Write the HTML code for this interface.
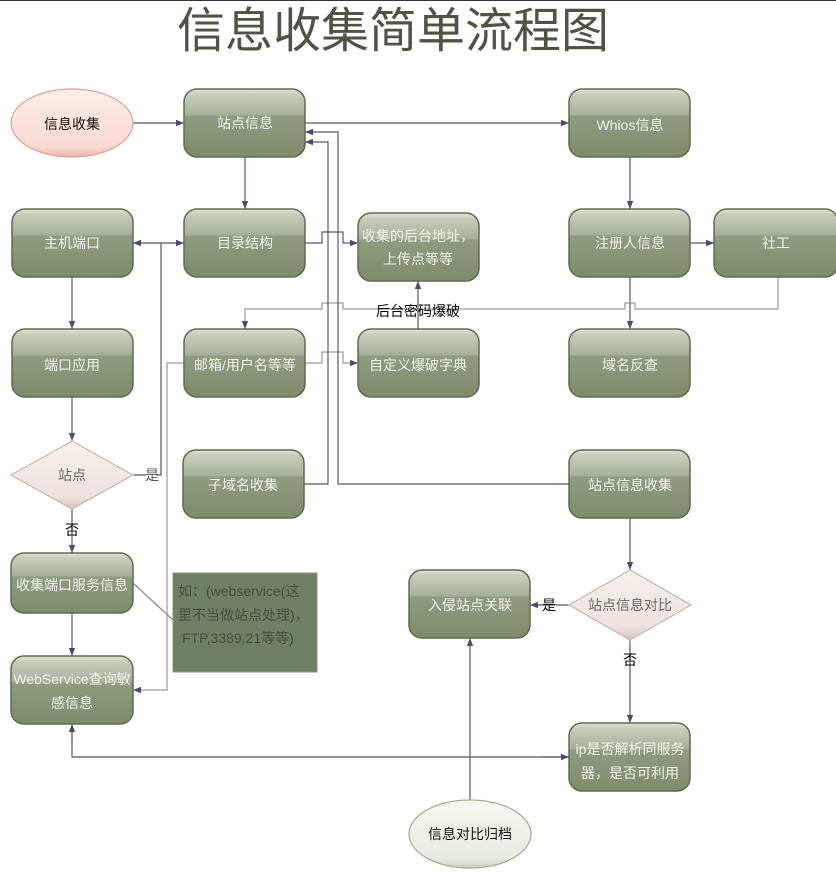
<!DOCTYPE html>
<html><head><meta charset="utf-8"><style>
html,body{margin:0;padding:0;background:#fff;}
svg{display:block;}
text{font-family:"Liberation Sans","Noto Sans CJK SC",sans-serif;}
</style></head><body>
<svg width="836" height="878" viewBox="0 0 836 878" xmlns="http://www.w3.org/2000/svg">
<defs>
<linearGradient id="g" x1="0" y1="0" x2="0" y2="1">
<stop offset="0" stop-color="#e0e5d9"/>
<stop offset="0.08" stop-color="#c6cdbb"/>
<stop offset="0.38" stop-color="#a6b098"/>
<stop offset="0.40" stop-color="#8e9b7e"/>
<stop offset="1" stop-color="#7e8c6b"/>
</linearGradient>
<linearGradient id="pk" x1="0" y1="0" x2="0" y2="1">
<stop offset="0" stop-color="#fdeeea"/>
<stop offset="0.85" stop-color="#f9d9d4"/>
<stop offset="1" stop-color="#eab4ab"/>
</linearGradient>
<linearGradient id="wh" x1="0" y1="0" x2="0" y2="1">
<stop offset="0" stop-color="#f6f7f2"/>
<stop offset="0.85" stop-color="#e9ece2"/>
<stop offset="1" stop-color="#c8cfbd"/>
</linearGradient>
<linearGradient id="dm" x1="0" y1="0" x2="0" y2="1">
<stop offset="0" stop-color="#f6f0ed"/>
<stop offset="0.8" stop-color="#ede3df"/>
<stop offset="1" stop-color="#d7c3bb"/>
</linearGradient>
<marker id="a" viewBox="0 0 10 10" refX="10" refY="5" markerWidth="8" markerHeight="8" orient="auto-start-reverse" markerUnits="userSpaceOnUse">
<path d="M0,1 L10,5 L0,9 z" fill="#4e4a6e"/>
</marker>
</defs>
<line x1="0" y1="0.5" x2="836" y2="0.5" stroke="#333" stroke-width="1"/>
<text x="393" y="47" font-size="48" fill="#4d5443" text-anchor="middle">信息收集简单流程图</text>

<g fill="none" stroke="#5a5575" stroke-width="1.2">
<line x1="133" y1="123" x2="184" y2="123" marker-end="url(#a)"/>
<line x1="305" y1="123" x2="569" y2="123" marker-end="url(#a)"/>
<line x1="245" y1="157" x2="245" y2="209" marker-end="url(#a)"/>
<line x1="630" y1="157" x2="630" y2="209" marker-end="url(#a)"/>
<line x1="690" y1="243" x2="714" y2="243" marker-end="url(#a)"/>
<line x1="630" y1="277" x2="630" y2="329" marker-end="url(#a)"/>
<path d="M778,277 V309 H635 V303 H625 V309 H343 V303 H322 V309 H245 V329" marker-end="url(#a)" stroke="#9a98a8"/>
<path d="M305,243 H322 V232 H343 V243 H358" marker-end="url(#a)"/>
<path d="M305,363 H322 V352 H343 V363 H358" marker-end="url(#a)" stroke="#9a98a8"/>
<line x1="418" y1="329" x2="418" y2="281" marker-end="url(#a)"/>
<path d="M304,484 H328 V142 H305" marker-end="url(#a)"/>
<path d="M569,484 H338 V132 H305" marker-end="url(#a)"/>
<line x1="161" y1="243" x2="133" y2="243" marker-end="url(#a)"/>
<line x1="161" y1="243" x2="184" y2="243" marker-end="url(#a)"/>
<path d="M133,475 H146 M156,475 H161 V243"/>
<path d="M184,363 H167 V690 H133" marker-end="url(#a)" stroke="#9a98a8"/>
<line x1="72" y1="277" x2="72" y2="329" marker-end="url(#a)"/>
<line x1="72" y1="397" x2="72" y2="441" marker-end="url(#a)"/>
<line x1="72" y1="509" x2="72" y2="553" marker-end="url(#a)"/>
<line x1="72" y1="613" x2="72" y2="656" marker-end="url(#a)"/>
<line x1="133" y1="583" x2="173" y2="620" stroke="#888"/>
<line x1="630" y1="518" x2="630" y2="570" marker-end="url(#a)"/>
<line x1="569" y1="605" x2="530" y2="605" marker-end="url(#a)"/>
<line x1="630" y1="640" x2="630" y2="723" marker-end="url(#a)"/>
<path d="M72,724 V757 H569"/>
<line x1="72" y1="740" x2="72" y2="724" marker-end="url(#a)"/>
<line x1="540" y1="757" x2="569" y2="757" marker-end="url(#a)"/>
<line x1="470" y1="800" x2="470" y2="638" marker-end="url(#a)"/>
</g>

<g stroke="#5e6b52" stroke-width="1.5" fill="url(#g)">
<rect x="184" y="89" width="121" height="68" rx="13"/>
<rect x="569" y="89" width="121" height="68" rx="13"/>
<rect x="12" y="209" width="121" height="68" rx="13"/>
<rect x="184" y="209" width="121" height="68" rx="13"/>
<rect x="358" y="213" width="121" height="68" rx="13"/>
<rect x="569" y="209" width="121" height="68" rx="13"/>
<rect x="714" y="209" width="124" height="68" rx="13"/>
<rect x="12" y="329" width="121" height="68" rx="13"/>
<rect x="184" y="329" width="121" height="68" rx="13"/>
<rect x="358" y="329" width="121" height="68" rx="13"/>
<rect x="569" y="329" width="121" height="68" rx="13"/>
<rect x="183" y="450" width="121" height="68" rx="13"/>
<rect x="569" y="450" width="121" height="68" rx="13"/>
<rect x="11" y="553" width="122" height="60" rx="13"/>
<rect x="11" y="656" width="122" height="68" rx="13"/>
<rect x="409" y="570" width="121" height="68" rx="13"/>
<rect x="569" y="723" width="121" height="68" rx="13"/>
</g>
<rect x="173" y="573" width="144" height="99" fill="#717f63" stroke="#8a967c"/>
<ellipse cx="72" cy="123" rx="61" ry="34" fill="url(#pk)" stroke="#dca59c" stroke-width="1.2"/>
<ellipse cx="470" cy="834" rx="61" ry="34" fill="url(#wh)" stroke="#a3ad94" stroke-width="1.2"/>
<path d="M72,441 L133,475 L72,509 L11,475 Z" fill="url(#dm)" stroke="#c9b4ac" stroke-width="1.2"/>
<path d="M630,570 L691,605 L630,640 L569,605 Z" fill="url(#dm)" stroke="#c9b4ac" stroke-width="1.2"/>

<g font-size="14" fill="#f3f3ee" text-anchor="middle">
<text x="245" y="128">站点信息</text>
<text x="630" y="130">Whios信息</text>
<text x="72" y="248">主机端口</text>
<text x="245" y="248">目录结构</text>
<text x="418" y="241">收集的后台地址，</text>
<text x="418" y="264">上传点等等</text>
<text x="630" y="248">注册人信息</text>
<text x="776" y="248">社工</text>
<text x="72" y="370">端口应用</text>
<text x="245" y="370">邮箱/用户名等等</text>
<text x="418" y="370">自定义爆破字典</text>
<text x="630" y="370">域名反查</text>
<text x="243" y="490">子域名收集</text>
<text x="630" y="490">站点信息收集</text>
<text x="72" y="590">收集端口服务信息</text>
<text x="72" y="684">WebService查询敏</text>
<text x="72" y="708">感信息</text>
<text x="470" y="610">入侵站点关联</text>
<text x="630" y="754">ip是否解析同服务</text>
<text x="630" y="778">器，是否可利用</text>
</g>
<g font-size="14" fill="#4a4e40">
<text x="178" y="596">如：(webservice(这</text>
<text x="178" y="620">里不当做站点处理)，</text>
<text x="182" y="643">FTP,3389,21等等)</text>
</g>
<g font-size="14" fill="#111" text-anchor="middle">
<text x="72" y="129">信息收集</text>
<text x="470" y="839">信息对比归档</text>
<text x="418" y="316" fill="#000">后台密码爆破</text>
<text x="549" y="610" fill="#000">是</text>
<text x="630" y="665" fill="#000">否</text>
<text x="72" y="535" fill="#000">否</text>
<text x="152" y="480" fill="#555">是</text>
</g>
<g font-size="14" fill="#6a6560" text-anchor="middle">
<text x="72" y="480">站点</text>
<text x="630" y="610">站点信息对比</text>
</g>
</svg>
</body></html>
